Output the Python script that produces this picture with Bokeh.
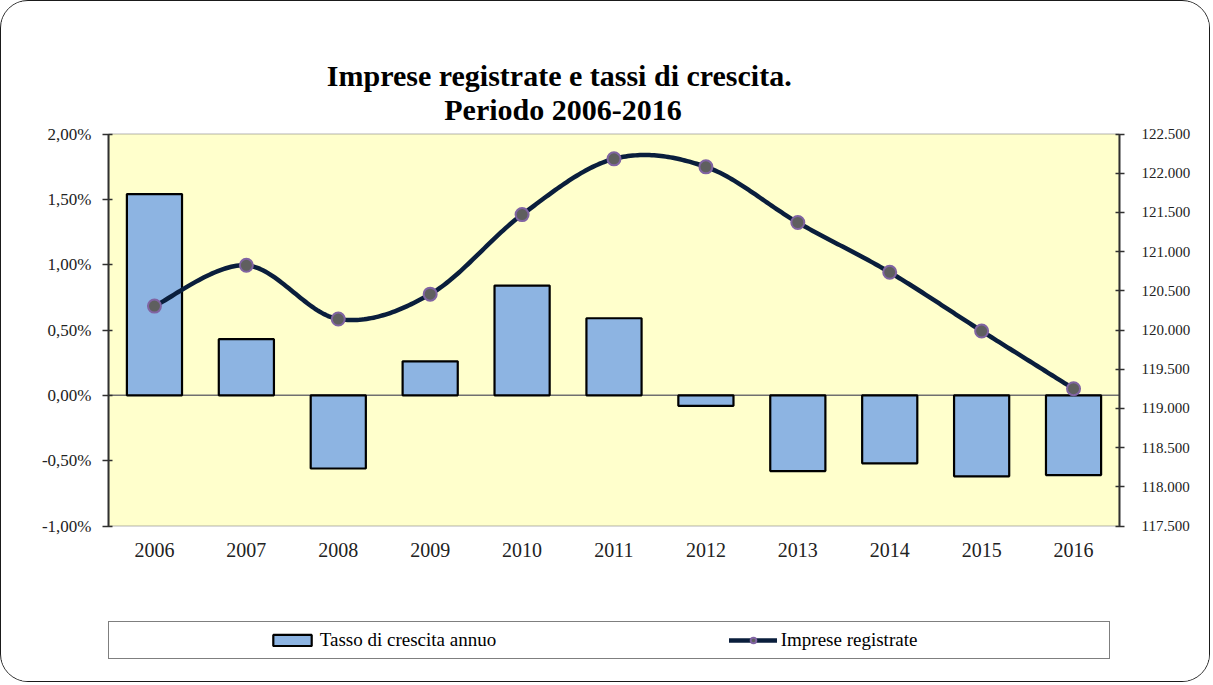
import numpy as np
from bokeh.plotting import figure
from bokeh.models import (Range1d, LinearAxis, FixedTicker, Span, Legend,
                          LegendItem, Label, BoxAnnotation)
from bokeh.embed import file_html
from bokeh.resources import INLINE

# ---------------- data ----------------
years = ["2006", "2007", "2008", "2009", "2010", "2011", "2012", "2013", "2014", "2015", "2016"]
tasso = [1.54, 0.43, -0.56, 0.26, 0.84, 0.59, -0.08, -0.58, -0.52, -0.62, -0.61]
imprese = [120305, 120825, 120140, 120457, 121472, 122183, 122081, 121371, 120736, 119987, 119251]

left_ticks = [-1.0, -0.5, 0.0, 0.5, 1.0, 1.5, 2.0]
left_labels = ["-1,00%", "-0,50%", "0,00%", "0,50%", "1,00%", "1,50%", "2,00%"]
right_ticks = [117500, 118000, 118500, 119000, 119500, 120000, 120500, 121000, 121500, 122000, 122500]
right_labels = ["117.500", "118.000", "118.500", "119.000", "119.500", "120.000",
                "120.500", "121.000", "121.500", "122.000", "122.500"]

title_1 = "Imprese  registrate e tassi di crescita."
title_2 = "Periodo 2006-2016"
label_bar = "Tasso di crescita annuo"
label_line = "Imprese registrate"

FONT = "Liberation Serif"

xpos = [i + 0.5 for i in range(len(years))]


def smooth(xs, ys, n=40):
    """Cubic Bezier (Catmull-Rom control points) through the points, like a smoothed line."""
    xs = np.asarray(xs, float)
    ys = np.asarray(ys, float)
    px = np.concatenate([[xs[0]], xs, [xs[-1]]])
    py = np.concatenate([[ys[0]], ys, [ys[-1]]])
    t = np.linspace(0, 1, n)
    ox, oy = [], []
    for i in range(len(xs) - 1):
        p0 = np.array([px[i], py[i]])
        p1 = np.array([px[i + 1], py[i + 1]])
        p2 = np.array([px[i + 2], py[i + 2]])
        p3 = np.array([px[i + 3], py[i + 3]])
        c1 = p1 + (p2 - p0) / 6.0
        c2 = p2 - (p3 - p1) / 6.0
        b = ((1 - t) ** 3)[:, None] * p1 + (3 * (1 - t) ** 2 * t)[:, None] * c1 \
            + (3 * (1 - t) * t ** 2)[:, None] * c2 + (t ** 3)[:, None] * p2
        if i > 0:
            b = b[1:]
        ox.extend(b[:, 0])
        oy.extend(b[:, 1])
    return ox, oy


# ---------------- layout (pixels) ----------------
W, H = 1210, 682
F_TOP, F_BOT = 10, 672          # frame spans nearly the whole height (title + legend live inside)
PX_TOP, PX_BOT = 132.5, 524.5   # where the plotting area (data) sits inside the canvas
F_LEFT, F_RIGHT = 107, 1118


def ext_range(lo, hi):
    ppu = (PX_BOT - PX_TOP) / (hi - lo)
    return Range1d(lo - (F_BOT - PX_BOT) / ppu, hi + (PX_TOP - F_TOP) / ppu)


p = figure(width=W, height=H, x_range=Range1d(0, len(years)),
           y_range=ext_range(left_ticks[0], left_ticks[-1]),
           output_backend="svg", toolbar_location=None,
           min_border_left=F_LEFT, min_border_right=W - F_RIGHT,
           min_border_top=F_TOP, min_border_bottom=H - F_BOT,
           background_fill_color="white", border_fill_color="white",
           outline_line_color=None)
p.title.visible = False
p.xgrid.visible = False
p.ygrid.visible = False
p.styles = {"border": "1.5px solid #1a1a1a", "border-radius": "28px", "overflow": "hidden"}
p.extra_y_ranges = {"imp": ext_range(right_ticks[0], right_ticks[-1])}

# plotting area (yellow) and zero line
p.add_layout(BoxAnnotation(left=0, right=len(years), bottom=left_ticks[0], top=left_ticks[-1],
                           fill_color="#FFFFCC", fill_alpha=1, line_color="#808080",
                           line_width=2, level="underlay"))
p.add_layout(Span(location=0, dimension="width", line_color="#707070", line_width=1.5,
                  level="underlay"))

bars = p.vbar(x=xpos, top=tasso, bottom=0, width=0.6, fill_color="#8DB4E2",
              line_color="black", line_width=2.2)

sx, sy = smooth(xpos, imprese)
line_r = p.line(sx, sy, y_range_name="imp", line_color="#0A1E3C", line_width=4.5,
                line_join="round", line_cap="round")
scat = p.scatter(xpos, imprese, y_range_name="imp", size=13, fill_color="#5F5F5F",
                 line_color="#8064A2", line_width=2)
# invisible renderer used only for spacing entries in the legend
blank = p.scatter(x=[], y=[], fill_alpha=0, line_alpha=0)

# left axis
ya = p.yaxis[0]
ya.ticker = FixedTicker(ticks=left_ticks)
ya.bounds = (left_ticks[0], left_ticks[-1])
ya.major_label_overrides = dict(zip(left_ticks, left_labels))
ya.minor_tick_line_color = None
ya.major_tick_in = 4
ya.major_tick_out = 6
ya.axis_line_color = "#303030"
ya.axis_line_width = 2
ya.major_tick_line_color = "#303030"
ya.major_tick_line_width = 1.5
ya.major_label_text_font = FONT
ya.major_label_text_font_size = "17px"
ya.major_label_text_color = "#222222"
ya.major_label_standoff = 11

# right axis
ra = LinearAxis(y_range_name="imp", ticker=FixedTicker(ticks=right_ticks),
                bounds=(right_ticks[0], right_ticks[-1]),
                major_label_overrides=dict(zip(right_ticks, right_labels)))
ra.minor_tick_line_color = None
ra.major_tick_in = 4
ra.major_tick_out = 5
ra.axis_line_color = "#303030"
ra.axis_line_width = 2
ra.major_tick_line_color = "#303030"
ra.major_tick_line_width = 1.5
ra.major_label_text_font = FONT
ra.major_label_text_font_size = "15px"
ra.major_label_text_color = "#222222"
ra.major_label_standoff = 17
p.add_layout(ra, "right")

# bottom (category) axis, pinned to the bottom of the plotting area
xa = p.xaxis[0]
xa.ticker = FixedTicker(ticks=xpos)
xa.fixed_location = left_ticks[0]
xa.major_label_overrides = dict(zip(xpos, years))
xa.axis_line_color = None
xa.major_tick_line_color = None
xa.minor_tick_line_color = None
xa.major_label_text_font = FONT
xa.major_label_text_font_size = "20px"
xa.major_label_text_color = "#222222"
xa.major_label_standoff = 11

# title, two lines
for txt, base_px in ((title_1, 74), (title_2, 108)):
    p.add_layout(Label(x=454.5, y=F_BOT - base_px, x_units="screen", y_units="screen",
                       text=txt, text_align="center", text_baseline="alphabetic",
                       text_font=FONT, text_font_style="bold", text_font_size="30px",
                       text_color="black"))

NB = "\u00a0"
legend = Legend(items=[LegendItem(label=NB * 21, renderers=[blank]),
                       LegendItem(label=label_bar, renderers=[bars]),
                       LegendItem(label=NB * 38, renderers=[blank]),
                       LegendItem(label=label_line, renderers=[line_r, scat]),
                       LegendItem(label=NB * 28, renderers=[blank])],
                orientation="horizontal", location=(0, F_BOT - 658),
                glyph_width=48, glyph_height=14, label_standoff=4, spacing=0,
                label_width=0, label_height=22,
                padding=7, margin=0, border_line_color="black", border_line_width=1.5,
                background_fill_color="white", background_fill_alpha=1,
                inactive_fill_alpha=0,
                label_text_font=FONT, label_text_font_size="19px", label_text_color="black")
p.add_layout(legend)

open("out.html", "w").write(file_html(p, INLINE))
